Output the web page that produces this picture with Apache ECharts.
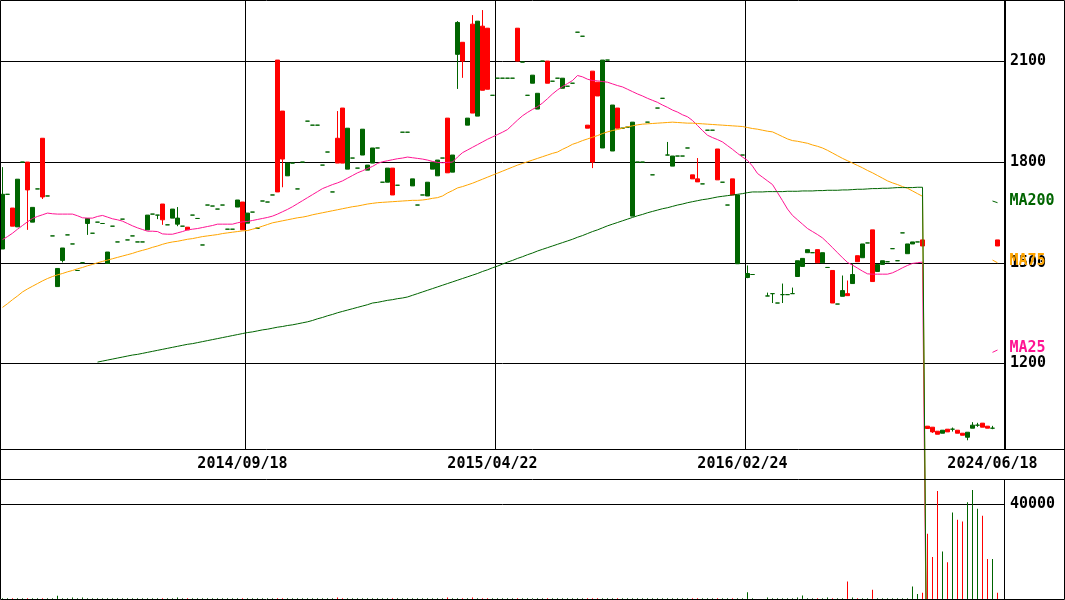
<!DOCTYPE html>
<html><head><meta charset="utf-8">
<script src="https://cdn.jsdelivr.net/npm/echarts@6/dist/echarts.min.js"></script>
<style>html,body{margin:0;padding:0;background:#fff}#c{width:1065px;height:600px}</style>
</head><body><div id="c"></div>
<script>
// ---- tick labels ----
const xTickIndex = [48, 98, 148, 198];
const xTickLabels = ['2014/09/18', '2015/04/22', '2016/02/24', '2024/06/18'];
const xGridIndex = [49, 99, 149];
const priceTicks = [1200, 1500, 1800, 2100];
const volumeTicks = [40000];

// ---- candles: [open, close, low, high]; a single number = open=close=low=high ----
const candles = [
 [1704,1541,1541,1785], 1704, [1609,1663,1609,1663], [1749,1607,1607,1749], 1800,
 [1717,1800,1598,1800], [1665,1621,1621,1665], 1720, [1696,1871,1690,1871], 1699,
 1580, [1483,1429,1429,1483], [1544,1507,1501,1544], 1583, 1556, 1477, 1500, [1632,1617,1583,1632], 1588, 1621,
 1617, [1532,1498,1498,1532], 1609, 1562, 1630, 1568, 1580, 1562, 1562, [1642,1598,1598,1642],
 1645, [1642,1642,1630,1642], [1628,1675,1613,1675], 1613, [1660,1633,1633,1660], [1633,1615,1609,1666], 1609, [1598,1606,1598,1606], 1642, 1632,
 1553, 1672, 1669, 1660, 1672, 1600, 1600, [1687,1666,1666,1687], [1598,1681,1598,1681], [1648,1618,1618,1648],
 1651, 1603, 1684, 1681, 1702, [1711,2104,1711,2104], [1809,1952,1725,1952], [1797,1759,1759,1797], 1797, 1720,
 1800, 1922, 1910, 1910, 1791, 1830, 1711, [1797,1871,1797,1952], [1797,1961,1797,1961], [1901,1779,1779,1901],
 1812, 1782, [1898,1821,1821,1898], [1791,1776,1776,1791], [1842,1797,1797,1842], 1842, 1740, [1782,1740,1740,1782], [1702,1782,1702,1782], 1731,
 1889, 1889, [1750,1729,1729,1750], 1672, 1702, [1740,1699,1699,1740], [1800,1779,1779,1800], [1806,1759,1759,1806], 1812, [1768,1931,1768,1931],
 [1821,1770,1770,1821], [2216,2121,2018,2220], [2101,2157,2051,2157], [1931,1910,1910,1931], [1946,2211,1946,2238], [2220,1937,1937,2220], [2014,2205,2014,2253], [2017,2199,2017,2199], 1999, 2050,
 2050, 2050, 2050, [2101,2199,2101,2199], 2098, 1999, [2059,2035,2035,2059], [2005,1958,1958,2005], 2101, [2035,2101,2035,2101],
 2041, 2050, [2050,2020,2020,2050], 2026, 2035, 2187, 2175, [1901,1910,1901,1910], [1800,2071,1782,2071], [1997,2038,1997,2038],
 [2104,1842,1842,2104], 2104, [1970,1833,1833,1970], [1901,1961,1901,1961], 1901, 1904, [1919,1639,1639,1919], 1800, 1800, 1919,
 1762, 1961, 1990, [1821,1821,1821,1860], [1818,1788,1788,1818], 1818, 1818, 1842, [1750,1762,1750,1762], [1741,1750,1741,1812],
 1735, 1895, 1895, [1747,1839,1747,1839], 1740, 1672, [1702,1750,1702,1750], [1702,1497,1497,1702], 1821, [1468,1456,1454,1492],
 1465, null, null, [1401,1401,1401,1411], [1408,1408,1380,1408], 1380, [1405,1405,1380,1438], 1405, [1408,1408,1408,1426], [1506,1459,1459,1506],
 [1513,1489,1489,1513], [1539,1530,1530,1539], 1530, [1500,1539,1500,1539], [1530,1500,1500,1530], 1486, [1380,1477,1380,1477], 1377, [1417,1400,1400,1462], [1402,1408,1402,1447],
 [1465,1438,1438,1498], [1503,1521,1503,1521], [1556,1515,1515,1556], 1559, [1444,1598,1444,1598], [1495,1474,1474,1495], [1506,1495,1495,1506], 1503, 1542, 1506,
 1589, [1556,1527,1527,1556], [1562,1556,1556,1562], 1562, [1550,1568,1550,1568], [1006,1013,1006,1013], [996,1010,993,1010], [989,998,989,998], [1001,992,992,1001], [996,1004,996,1004],
 [1004,1004,997,1009], [992,1001,992,1001], [986,992,986,992], [995,980,971,995], [1016,1007,1007,1025], [1016,1016,1011,1023], [1010,1022,1010,1022], [1007,1013,1007,1013], [1007,1007,1004,1014], [1550,1568,1550,1568],
 null
];

// ---- volume ----
const volumes = [
 300,300,300,300,300,300,300,300,300,300,
 300,1400,300,300,600,300,600,300,300,300,
 300,300,300,300,300,300,300,300,300,300,
 300,300,300,300,300,600,300,300,300,300,
 300,300,300,300,300,300,300,300,300,300,
 300,300,300,300,300,300,300,300,300,300,
 300,300,300,300,300,300,300,600,300,300,
 300,300,300,300,300,300,300,300,300,300,
 300,300,300,300,300,300,300,300,300,600,
 300,300,300,300,600,300,300,300,300,300,
 300,300,300,300,300,300,300,300,300,300,
 300,300,300,300,300,300,300,300,300,300,
 300,300,300,300,300,300,300,300,300,300,
 300,300,300,300,300,300,300,300,300,300,
 300,300,300,300,300,300,300,300,300,2800,
 300,null,null,600,300,300,300,300,300,600,
 1500,300,300,300,300,600,300,300,300,7400,
 600,300,300,300,3900,300,300,300,300,300,
 300,300,5200,2100,2600,27400,17600,45400,20000,15400,
 36300,33300,32600,40600,45800,37900,35000,16800,16800,2600,
 null
];

// ---- moving averages ----
const ma25 = [
 1569,1578,1588,1600,1611,1622,1632,1638,1643,1648,
 1646,1645,1645,1645,1645,1640,1634,1633,1633,1638,
 1641,1636,1631,1628,1624,1617,1610,1604,1599,1594,
 1594,1593,1586,1585,1585,1589,1593,1598,1600,1602,
 1605,1608,1611,1615,1615,1615,1615,1619,1622,1623,
 1626,1629,1632,1635,1639,1645,1652,1659,1667,1676,
 1685,1694,1703,1712,1721,1727,1733,1738,1744,1752,
 1760,1768,1774,1781,1787,1796,1801,1804,1807,1810,
 1812,1815,1813,1811,1809,1806,1802,1799,1798,1799,
 1800,1815,1828,1836,1844,1852,1860,1868,1875,1882,
 1889,1897,1911,1925,1938,1948,1957,1965,1976,1989,
 2003,2015,2025,2034,2043,2058,2054,2047,2043,2042,
 2040,2038,2033,2028,2024,2017,2010,2003,1997,1990,
 1984,1978,1970,1963,1955,1949,1941,1935,1924,1909,
 1894,1880,1873,1867,1860,1849,1838,1826,1815,1805,
 1788,1766,1755,1744,1733,1709,1685,1660,1641,1628,
 1615,1602,1593,1584,1574,1560,1545,1530,1515,1501,
 1493,1484,1475,1467,1466,1466,1466,1466,1470,1477,
 1485,1492,1498,1500,1502,0,null,null,null,null,
 null,null,null,null,null,null,null,null,1233,1240,
 null
];
const ma75 = [
 1367,1378,1390,1401,1413,1422,1430,1438,1446,1453,
 1459,1464,1468,1473,1477,1482,1486,1491,1495,1500,
 1504,1508,1512,1516,1520,1524,1528,1533,1537,1541,
 1546,1550,1555,1559,1562,1564,1567,1570,1572,1575,
 1578,1580,1582,1584,1587,1589,1591,1593,1595,1596,
 1600,1604,1609,1614,1619,1622,1625,1628,1631,1634,
 1636,1639,1643,1646,1649,1652,1655,1658,1661,1664,
 1667,1669,1672,1675,1677,1679,1680,1681,1682,1683,
 1684,1685,1686,1686,1687,1689,1692,1694,1699,1708,
 1715,1723,1727,1732,1737,1743,1749,1755,1761,1767,
 1773,1779,1785,1791,1796,1801,1806,1811,1816,1821,
 1826,1830,1838,1845,1853,1858,1864,1869,1874,1879,
 1885,1890,1894,1897,1901,1905,1908,1911,1913,1914,
 1915,1916,1917,1918,1919,1918,1917,1916,1916,1915,
 1914,1913,1912,1911,1910,1909,1908,1907,1906,1903,
 1900,1898,1895,1892,1890,1883,1876,1869,1864,1862,
 1859,1856,1851,1847,1842,1835,1827,1819,1811,1804,
 1797,1790,1783,1775,1768,1760,1752,1744,1738,1733,
 1727,1722,1714,1706,1698,0,null,null,null,null,
 null,null,null,null,null,null,null,null,1508,1500,
 null
];
const ma200 = [
 null,null,null,null,null,null,null,null,null,null,
 null,null,null,null,null,null,null,null,null,1204,
 1207,1210,1213,1216,1219,1222,1225,1227,1230,1233,
 1236,1239,1242,1245,1248,1251,1254,1257,1259,1262,
 1265,1268,1271,1274,1277,1280,1283,1286,1289,1292,
 1294,1297,1300,1302,1305,1308,1310,1313,1315,1318,
 1321,1324,1328,1333,1337,1342,1346,1351,1355,1359,
 1363,1367,1371,1375,1380,1382,1385,1388,1390,1393,
 1395,1398,1403,1408,1413,1418,1423,1428,1433,1438,
 1443,1448,1453,1458,1463,1468,1474,1479,1485,1490,
 1496,1502,1507,1513,1518,1524,1529,1535,1540,1545,
 1550,1555,1560,1565,1570,1576,1581,1587,1593,1598,
 1604,1610,1615,1620,1625,1630,1635,1640,1644,1649,
 1653,1657,1661,1664,1668,1672,1675,1679,1682,1685,
 1688,1690,1693,1696,1698,1700,1702,1704,1706,1709,
 1711,1711,1711,1712,1712,1712,1712,1713,1713,1713,
 1714,1714,1714,1715,1715,1716,1716,1716,1717,1717,
 1718,1719,1719,1720,1721,1721,1722,1722,1723,1724,
 1724,1724,1724,1725,1725,0,null,null,null,null,
 null,null,null,null,null,null,null,null,1684,1679,
 null
];

// ---- build ----
const RED = '#ff0000', GREEN = '#006400';
const FONT = 'DejaVu Sans Mono';
const categories = candles.map((_, i) => String(i));
const quads = candles.map(b => b === null ? null : (typeof b === 'number' ? [b, b, b, b] : b));
const candleData = quads.map(q => {
  if (!q) return ['-', '-', '-', '-'];
  if (q[0] === q[1]) return { value: q, itemStyle: { color: GREEN, color0: GREEN, borderColor: GREEN, borderColor0: GREEN } };
  return q;
});
const volColor = i => { const q = quads[i]; return q && q[1] > q[0] ? RED : GREEN; };

const txt = { fontFamily: FONT, fontSize: 15, fontWeight: 'bold', color: '#000' };

const option = {
  animation: false,
  backgroundColor: '#fff',
  grid: [
    { left: 0, top: 0, width: 1005, height: 449, show: false },
    { left: 0, top: 480, width: 1005, height: 119, show: false }
  ],
  xAxis: [
    { type: 'category', gridIndex: 0, data: categories, boundaryGap: true,
      axisLine: { show: false }, axisTick: { show: false },
      axisLabel: Object.assign({ show: true, margin: 8, hideOverlap: false,
        interval: (i) => xTickIndex.includes(i),
        formatter: (v, i) => { const k = xTickIndex.indexOf(Number(v)); return k >= 0 ? xTickLabels[k] : ''; } }, txt),
      splitLine: { show: true, interval: (i) => xGridIndex.includes(i), lineStyle: { color: '#000', width: 1 } } },
    { type: 'category', gridIndex: 1, data: categories, boundaryGap: true, show: false }
  ],
  yAxis: [
    { type: 'value', gridIndex: 0, min: 945, max: 2283, show: false, splitLine: { show: false } },
    { type: 'value', gridIndex: 1, min: 0, max: 50000, show: false, splitLine: { show: false } }
  ],
  series: [
    { type: 'candlestick', xAxisIndex: 0, yAxisIndex: 0, data: candleData, barWidth: 4,
      itemStyle: { color: RED, color0: GREEN, borderColor: RED, borderColor0: GREEN, borderWidth: 1 },
      markLine: { silent: true, symbol: 'none', z: 1, animation: false,
        lineStyle: { color: '#000', width: 1, type: 'solid' },
        label: Object.assign({ position: 'end', distance: 5, formatter: p => String(p.value) }, txt),
        emphasis: { disabled: true },
        data: priceTicks.map(v => ({ yAxis: v })) } },
    { name: 'MA25', type: 'line', xAxisIndex: 0, yAxisIndex: 0, data: ma25, symbol: 'none', clip: false,
      lineStyle: { color: '#ff1493', width: 1 },
      endLabel: Object.assign({ show: true, formatter: 'MA25', distance: 12, offset: [0, -2] }, txt, { color: '#ff1493' }) },
    { name: 'MA75', type: 'line', xAxisIndex: 0, yAxisIndex: 0, data: ma75, symbol: 'none', clip: false,
      lineStyle: { color: '#ffa500', width: 1 },
      endLabel: Object.assign({ show: true, formatter: 'MA75', distance: 12, offset: [0, -2] }, txt, { color: '#ffa500' }) },
    { name: 'MA200', type: 'line', xAxisIndex: 0, yAxisIndex: 0, data: ma200, symbol: 'none', clip: false,
      lineStyle: { color: GREEN, width: 1 },
      endLabel: Object.assign({ show: true, formatter: 'MA200', distance: 12, offset: [0, -2] }, txt, { color: GREEN }) },
    { type: 'bar', xAxisIndex: 1, yAxisIndex: 1, data: volumes, barWidth: 1,
      itemStyle: { color: p => volColor(p.dataIndex) },
      markLine: { silent: true, symbol: 'none', z: 1, animation: false,
        lineStyle: { color: '#000', width: 1, type: 'solid' },
        label: Object.assign({ position: 'end', distance: 5, formatter: p => String(p.value) }, txt),
        emphasis: { disabled: true },
        data: volumeTicks.map(v => ({ yAxis: v })) } }
  ],
  graphic: [
    { type: 'rect', silent: true, z: 100, shape: { x: 0.5, y: 0.5, width: 1064, height: 599 }, style: { fill: null, stroke: '#000', lineWidth: 1 } },
    { type: 'line', silent: true, z: 100, shape: { x1: 0, y1: 449.5, x2: 1065, y2: 449.5 }, style: { stroke: '#000', lineWidth: 1 } },
    { type: 'line', silent: true, z: 100, shape: { x1: 0, y1: 479.5, x2: 1065, y2: 479.5 }, style: { stroke: '#000', lineWidth: 1 } },
    { type: 'line', silent: true, z: 100, shape: { x1: 1004.5, y1: 0, x2: 1004.5, y2: 449.5 }, style: { stroke: '#000', lineWidth: 1 } },
    { type: 'line', silent: true, z: 100, shape: { x1: 1004.5, y1: 479.5, x2: 1004.5, y2: 600 }, style: { stroke: '#000', lineWidth: 1 } }
  ]
};
const chart = echarts.init(document.getElementById('c'), null, { renderer: 'canvas' });
chart.setOption(option);
</script>
</body></html>
